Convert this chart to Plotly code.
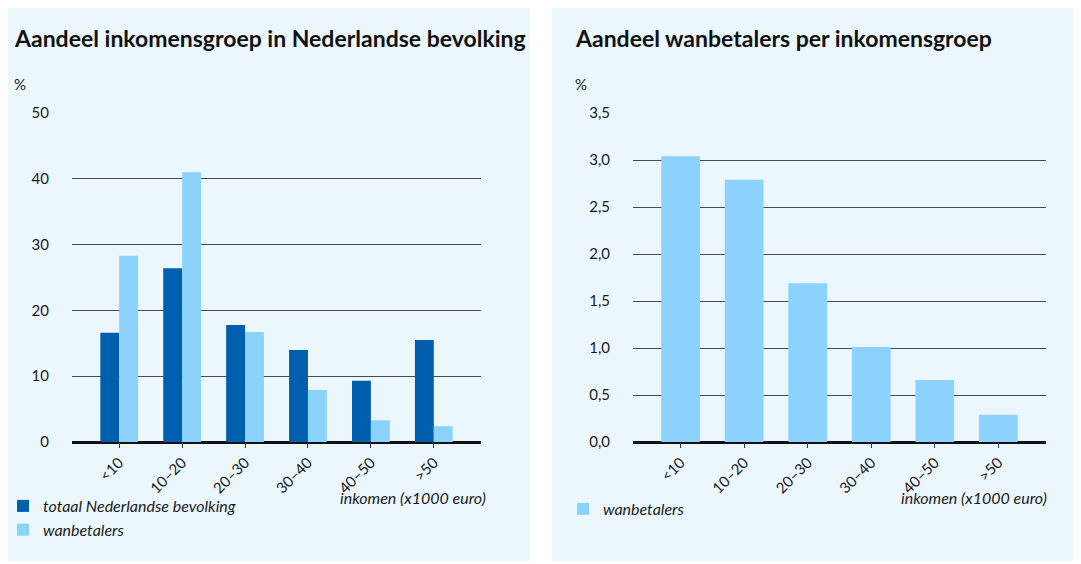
import plotly.graph_objects as go

categories = ["<10", "10–20", "20–30", "30–40", "40–50", ">50"]
totaal_nl = [16.6, 26.4, 17.8, 14.0, 9.3, 15.5]
wanbetalers_share = [28.3, 41.0, 16.7, 7.9, 3.3, 2.4]
wanbetalers_pct = [3.04, 2.79, 1.69, 1.01, 0.66, 0.29]

title_left = "Aandeel inkomensgroep in Nederlandse bevolking"
title_right = "Aandeel wanbetalers per inkomensgroep"
x_label = "inkomen (x1000 euro)"

W, H = 1081, 564
OFF = 8  # page body margin
DARK = "#005EAE"
LIGHT = "#8BD2FF"
BG = "#ECF7FD"
FONT = "Lato"

def px(x):
    return (x - OFF) / W

def py(y):
    return 1 - (y - OFF) / H

fig = go.Figure()
fig.add_trace(go.Bar(x=categories, y=totaal_nl, name="totaal Nederlandse bevolking",
                     marker=dict(color=DARK, line_width=0), xaxis="x", yaxis="y", legend="legend"))
fig.add_trace(go.Bar(x=categories, y=wanbetalers_share, name="wanbetalers",
                     marker=dict(color=LIGHT, line_width=0), xaxis="x", yaxis="y", legend="legend"))
fig.add_trace(go.Bar(x=categories, y=wanbetalers_pct, name="wanbetalers", width=0.61,
                     marker=dict(color=LIGHT, line_width=0), xaxis="x2", yaxis="y2", legend="legend2"))

xcommon = dict(type="category", range=[-0.75, 5.75], tickangle=-45, ticks="outside", ticklen=5,
               tickcolor="#333333", tickwidth=1, showgrid=False, showline=False, zeroline=False,
               automargin=False,
               tickfont=dict(family=FONT, size=15, color="#1a1a1a"), fixedrange=True)
ycommon = dict(showgrid=True, gridcolor="#4a4a4a", gridwidth=1, zeroline=True, zerolinecolor="#111111",
               zerolinewidth=2.5, ticks="", ticklabelstandoff=22, automargin=False,
               tickfont=dict(family=FONT, size=15, color="#1a1a1a"), fixedrange=True)

fig.update_layout(
    width=W, height=H, margin=dict(l=0, r=0, t=0, b=0, pad=0, autoexpand=False),
    autosize=False,
    paper_bgcolor="white", plot_bgcolor="rgba(0,0,0,0)",
    separators=",.", barmode="group", bargap=0.4, bargroupgap=0,
    font=dict(family=FONT, color="#1a1a1a"),
    xaxis=dict(domain=[px(72), px(481)], anchor="y", **xcommon),
    yaxis=dict(domain=[py(442), py(113)], anchor="x", range=[0, 50], tickvals=[0, 10, 20, 30, 40, 50], **ycommon),
    xaxis2=dict(domain=[px(633), px(1046)], anchor="y2", **xcommon),
    yaxis2=dict(domain=[py(442), py(113)], anchor="x2", range=[0, 3.5],
                tickvals=[0, 0.5, 1, 1.5, 2, 2.5, 3, 3.5], tickformat=".1f", **ycommon),
    legend=dict(x=px(3), y=py(489), xanchor="left", yanchor="top", bgcolor="rgba(0,0,0,0)",
                font=dict(family=FONT, size=16, style="italic", color="#1a1a1a"), tracegroupgap=0),
    legend2=dict(x=px(563), y=py(492), xanchor="left", yanchor="top", bgcolor="rgba(0,0,0,0)",
                 font=dict(family=FONT, size=16, style="italic", color="#1a1a1a")),
    shapes=[
        dict(type="rect", xref="paper", yref="paper", x0=px(8), x1=px(530), y0=py(561), y1=py(5),
             fillcolor=BG, line_width=0, layer="below"),
        dict(type="rect", xref="paper", yref="paper", x0=px(552), x1=px(1095), y0=py(561), y1=py(5),
             fillcolor=BG, line_width=0, layer="below"),
    ],
    annotations=[
        dict(text="<b>" + title_left + "</b>", x=px(12), y=py(38), xref="paper", yref="paper",
             xanchor="left", yanchor="middle", showarrow=False, font=dict(family=FONT, size=23, color="#111111")),
        dict(text="<b>" + title_right + "</b>", x=px(573), y=py(38), xref="paper", yref="paper",
             xanchor="left", yanchor="middle", showarrow=False, font=dict(family=FONT, size=23, color="#111111")),
        dict(text="%", x=px(12), y=py(84), xref="paper", yref="paper", xanchor="left", yanchor="middle",
             showarrow=False, font=dict(family=FONT, size=15)),
        dict(text="%", x=px(573), y=py(84), xref="paper", yref="paper", xanchor="left", yanchor="middle",
             showarrow=False, font=dict(family=FONT, size=15)),
        dict(text=x_label, x=px(488), y=py(497), xref="paper", yref="paper", xanchor="right", yanchor="middle",
             showarrow=False, font=dict(family=FONT, size=16, style="italic")),
        dict(text=x_label, x=px(1049), y=py(497), xref="paper", yref="paper", xanchor="right", yanchor="middle",
             showarrow=False, font=dict(family=FONT, size=16, style="italic")),
    ],
)

fig.write_html("out.html")
